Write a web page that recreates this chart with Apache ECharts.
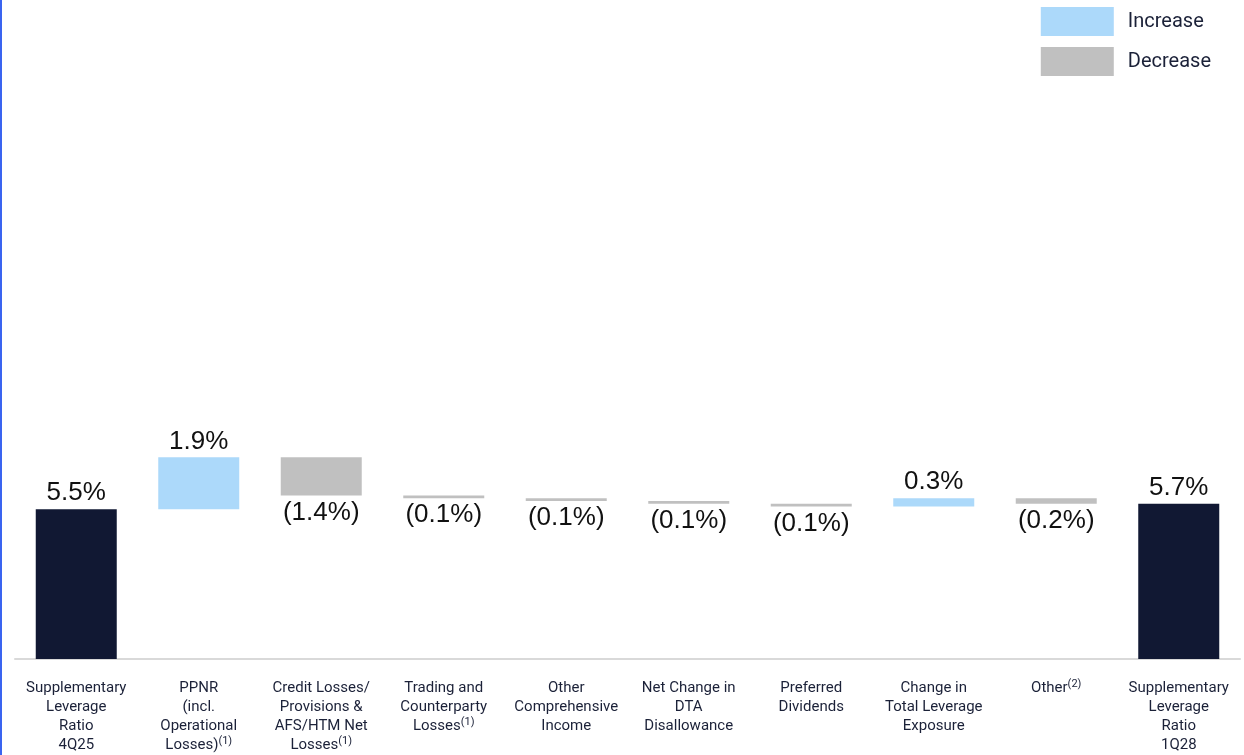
<!DOCTYPE html>
<html>
<head>
<meta charset="utf-8">
<script src="https://cdn.jsdelivr.net/npm/echarts@6/dist/echarts.min.js"></script>
<style>
  html, body { margin: 0; padding: 0; background: #fff; }
  #main { width: 1244px; height: 755px; }
</style>
</head>
<body>
<div id="main"></div>
<script>
var categories = [
  'Supplementary\nLeverage\nRatio\n4Q25',
  'PPNR\n(incl.\nOperational\nLosses){sup|(1)}',
  'Credit Losses/\nProvisions &\nAFS/HTM Net\nLosses{sup|(1)}',
  'Trading and\nCounterparty\nLosses{sup|(1)}',
  'Other\nComprehensive\nIncome',
  'Net Change in\nDTA\nDisallowance',
  'Preferred\nDividends',
  'Change in\nTotal Leverage\nExposure',
  'Other{sup|(2)}',
  'Supplementary\nLeverage\nRatio\n1Q28'
];
// first and last are totals, the rest are changes
var changes = [5.5, 1.9, -1.4, -0.1, -0.1, -0.1, -0.1, 0.3, -0.2, 5.7];
var isTotal = [true, false, false, false, false, false, false, false, false, true];

var base = [], inc = [], dec = [], total = [];
var run = 0;
for (var i = 0; i < changes.length; i++) {
  var v = changes[i];
  if (isTotal[i]) {
    run = v;
    base.push(0); inc.push('-'); dec.push('-'); total.push(v);
  } else if (v >= 0) {
    base.push(run); inc.push(v); dec.push('-'); total.push('-');
    run = +(run + v).toFixed(2);
  } else {
    run = +(run + v).toFixed(2);
    base.push(run); inc.push('-'); dec.push(-v); total.push('-');
  }
}

var labelFont = { fontFamily: 'Liberation Sans, Arial', fontSize: 26, color: '#111111' };

var myChart = echarts.init(document.getElementById('main'));
var option = {
  animation: false,
  graphic: [{
    type: 'rect', left: 0, top: 0,
    shape: { width: 2, height: 755 },
    style: { fill: '#3a64f0' }
  }],
  legend: {
    data: ['Increase', 'Decrease'],
    orient: 'vertical',
    right: 28, top: 2,
    itemWidth: 73, itemHeight: 29, itemGap: 11,
    icon: 'rect',
    textStyle: { fontFamily: 'Roboto', fontSize: 20, color: '#1b2138', padding: [6, 0, 0, 9] }
  },
  grid: { left: 15, right: 4, top: 114, bottom: 96 },
  xAxis: {
    type: 'category',
    data: categories,
    axisLine: { lineStyle: { color: '#d9d9d9', width: 2 } },
    axisTick: { show: false },
    axisLabel: {
      interval: 0, margin: 20,
      fontFamily: 'Roboto', fontSize: 15, lineHeight: 19, color: '#1b2138',
      rich: { sup: { fontFamily: 'Roboto', fontSize: 11, lineHeight: 19, verticalAlign: 'top', color: '#1b2138' } }
    }
  },
  yAxis: { type: 'value', min: 0, max: 20, show: false, splitLine: { show: false } },
  series: [
    {
      name: 'base', type: 'bar', stack: 'w', barWidth: 81, silent: true,
      itemStyle: { color: 'transparent' }, data: base
    },
    {
      name: 'Increase', type: 'bar', stack: 'w', barWidth: 81,
      itemStyle: { color: '#acd9fa' }, data: inc,
      label: Object.assign({ show: true, position: 'top', distance: 3,
        formatter: function (p) { return p.value.toFixed(1) + '%'; } }, labelFont)
    },
    {
      name: 'Decrease', type: 'bar', stack: 'w', barWidth: 81,
      itemStyle: { color: '#c0c0c0' }, data: dec,
      label: Object.assign({ show: true, position: 'bottom', distance: 4,
        formatter: function (p) { return '(' + p.value.toFixed(1) + '%)'; } }, labelFont)
    },
    {
      name: 'Total', type: 'bar', stack: 'w', barWidth: 81,
      itemStyle: { color: '#111833' }, data: total,
      label: Object.assign({ show: true, position: 'top', distance: 3,
        formatter: function (p) { return p.value.toFixed(1) + '%'; } }, labelFont)
    }
  ]
};
myChart.setOption(option);
</script>
</body>
</html>
